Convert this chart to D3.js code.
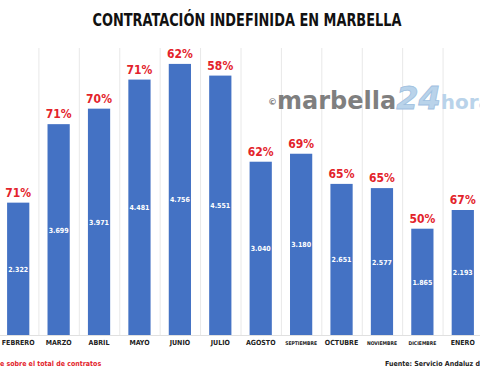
<!DOCTYPE html>
<meta charset="utf-8">
<head>
  <title>Contratación indefinida en Marbella</title>
</head>

<style>
body { margin: 0; background: #fff; }
text { font-family: "DejaVu Sans Condensed", "DejaVu Sans", sans-serif; font-weight: bold; }
.grid { stroke: #e8e8e8; stroke-width: 1; }
.bar { fill: #4472c4; }
.pct { fill: #e3232b; font-size: 12px; }
.val { fill: #fff; font-size: 7px; }
.month { fill: #222; font-size: 7px; }
</style>

<body>
  <svg width="480" height="384"></svg>

  <script src="https://cdnjs.cloudflare.com/ajax/libs/d3/7.8.5/d3.min.js"></script>
  <script>

const months = ["FEBRERO", "MARZO", "ABRIL", "MAYO", "JUNIO", "JULIO", "AGOSTO",
                "SEPTIEMBRE", "OCTUBRE", "NOVIEMBRE", "DICIEMBRE", "ENERO"];
const contratos = [2322, 3699, 3971, 4481, 4756, 4551, 3040, 3180, 2651, 2577, 1865, 2193];
const porcentaje = [71, 71, 70, 71, 62, 58, 62, 69, 65, 65, 50, 67];
const smallMonths = ["SEPTIEMBRE", "NOVIEMBRE", "DICIEMBRE"];

const data = months.map((m, i) => ({ month: m, value: contratos[i], pct: porcentaje[i] }));

const es = d3.formatLocale({ decimal: ",", thousands: ".", grouping: [3], currency: ["", " €"] });
const fmt = es.format(",d");

const svg = d3.select("svg");

const x = d3.scaleBand()
  .domain(months)
  .range([-2, 483])
  .paddingInner(0.45)
  .paddingOuter(0.225);

const y = d3.scaleLinear()
  .domain([0, 5000])
  .range([335, 50]);

// vertical gridlines between categories
const bounds = d3.range(months.length + 1).map(i => -2 + i * x.step());
svg.selectAll(".grid")
  .data(bounds)
  .enter()
  .append("line")
  .attr("class", "grid")
  .attr("x1", d => d + 0.5)
  .attr("x2", d => d + 0.5)
  .attr("y1", 48)
  .attr("y2", 335);

svg.append("line")
  .attr("x1", 0).attr("x2", 480)
  .attr("y1", 335.5).attr("y2", 335.5)
  .attr("stroke", "#e0e0e0");

// watermark
const wm = svg.append("text")
  .attr("x", 268)
  .attr("y", 109)
  .style("font-family", "'DejaVu Sans', sans-serif");
wm.append("tspan").attr("fill", "#7f7f7f").style("font-size", "9px").attr("dy", -4).text("©");
wm.append("tspan").attr("fill", "#7f7f7f").style("font-size", "24px").attr("dy", 4).text("marbella");
wm.append("tspan").attr("fill", "#b9d3ea").attr("stroke", "#9fc0e0").attr("stroke-width", 0.8)
  .style("font-size", "32px").style("font-style", "italic").text("24");
wm.append("tspan").attr("fill", "#b9d3ea").style("font-size", "20px").text("horas");

svg.selectAll(".bar")
  .data(data)
  .enter()
  .append("rect")
  .attr("class", "bar")
  .attr("x", d => x(d.month))
  .attr("y", d => y(d.value))
  .attr("width", x.bandwidth())
  .attr("height", d => y(0) - y(d.value));

svg.selectAll(".pct")
  .data(data)
  .enter()
  .append("text")
  .attr("class", "pct")
  .attr("text-anchor", "middle")
  .attr("x", d => x(d.month) + x.bandwidth() / 2)
  .attr("y", d => y(d.value) - 6)
  .text(d => d.pct + "%");

svg.selectAll(".val")
  .data(data)
  .enter()
  .append("text")
  .attr("class", "val")
  .attr("text-anchor", "middle")
  .attr("x", d => x(d.month) + x.bandwidth() / 2)
  .attr("y", d => (y(d.value) + y(0)) / 2 + 3)
  .text(d => fmt(d.value));

svg.selectAll(".month")
  .data(months)
  .enter()
  .append("text")
  .attr("class", "month")
  .attr("text-anchor", "middle")
  .attr("x", d => x(d) + x.bandwidth() / 2)
  .attr("y", 345)
  .style("font-size", d => smallMonths.includes(d) ? "5px" : null)
  .text(d => d);

svg.append("text")
  .attr("x", 247)
  .attr("y", 26)
  .attr("text-anchor", "middle")
  .attr("fill", "#111")
  .attr("textLength", 309)
  .attr("lengthAdjust", "spacingAndGlyphs")
  .style("font-size", "17px")
  .text("CONTRATACIÓN INDEFINIDA EN MARBELLA");

svg.append("text")
  .attr("x", 0)
  .attr("y", 366)
  .attr("fill", "#e3232b")
  .style("font-size", "7px")
  .text("e sobre el total de contratos");

svg.append("text")
  .attr("x", 385)
  .attr("y", 366)
  .attr("fill", "#222")
  .style("font-size", "7px")
  .text("Fuente: Servicio Andaluz de Empleo");

  </script>
</body>
</html>
